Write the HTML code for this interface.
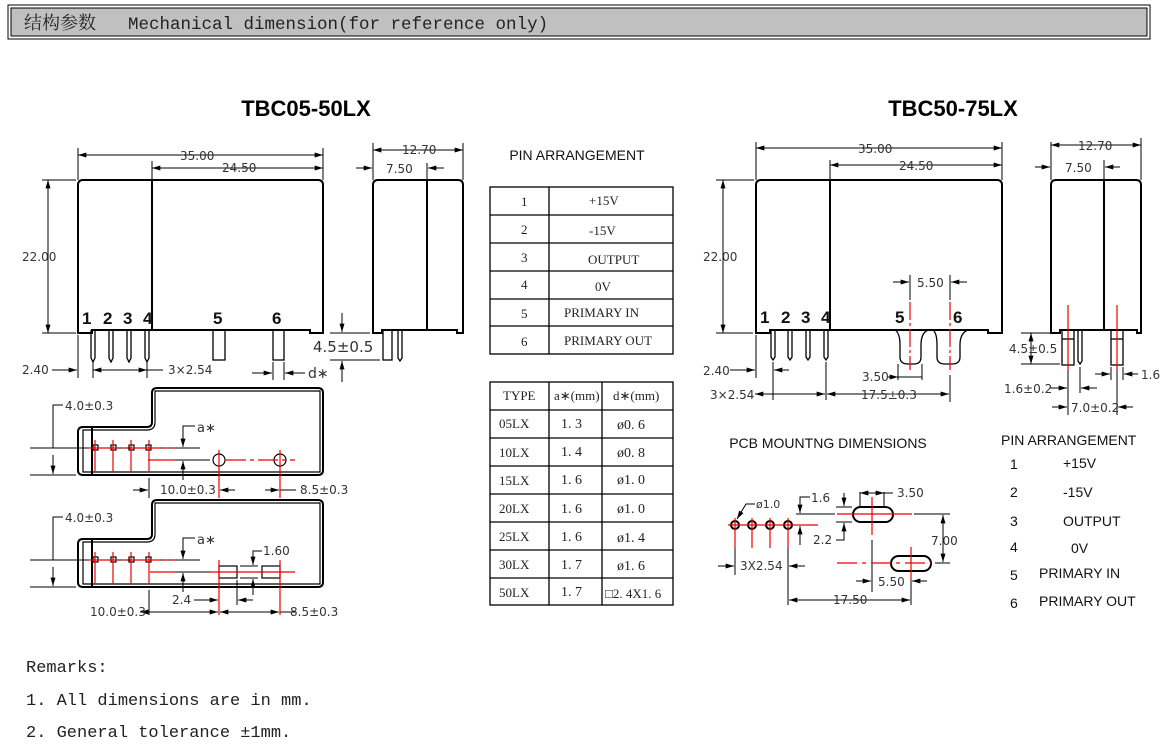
<!DOCTYPE html>
<html><head><meta charset="utf-8"><style>
html,body{margin:0;padding:0;background:#fff;}
svg{display:block;}
.d{font-family:"DejaVu Sans","Liberation Sans",sans-serif;font-size:12px;fill:#333;}
.m{font-family:"Liberation Serif","Noto Serif CJK SC",serif;font-size:13px;fill:#222;}
.b{font-family:"Liberation Sans",sans-serif;font-weight:bold;font-size:17px;fill:#111;}
.a{font-family:"Liberation Sans",sans-serif;font-size:14px;fill:#111;}
</style></head><body>
<svg width="1160" height="756" viewBox="0 0 1160 756" xmlns="http://www.w3.org/2000/svg">
<defs>
<marker id="ar" viewBox="0 0 10 6" refX="10" refY="3" markerWidth="9" markerHeight="5" orient="auto-start-reverse"><path d="M0,0L10,3L0,6z" fill="#000"/></marker>
</defs>
<!-- header -->
<rect x="8" y="5" width="1142" height="34" fill="#fff" stroke="#000" stroke-width="1"/>
<rect x="11" y="8" width="1136" height="28" fill="#c0c0c0" stroke="#000" stroke-width="1"/>
<text x="24" y="29" style="font-family:'Noto Serif CJK SC',serif;font-size:18px;fill:#222">结构参数</text>
<text x="128" y="29" style="font-family:'Liberation Mono',monospace;font-size:17.5px;fill:#222">Mechanical dimension(for reference only)</text>

<g fill="none" stroke="#000" stroke-width="1">
<!-- LEFT front -->
<path d="M78,333 V185 Q78,180 83,180 H318 Q323,180 323,185 V333 H310 V330 H92 V333 Z" stroke-width="2"/>
<line x1="152" y1="180" x2="152" y2="330" stroke-width="2"/>
<g stroke-width="1.3">
<path d="M91,330V358L93,362L95,358V330"/><path d="M109,330V358L111,362L113,358V330"/><path d="M127,330V358L129,362L131,358V330"/><path d="M145,330V358L147,362L149,358V330"/>
<rect x="213" y="330" width="12" height="30"/><rect x="273" y="330" width="11" height="30"/>
</g>
<line x1="78" y1="148" x2="78" y2="180"/><line x1="323" y1="148" x2="323" y2="180"/><line x1="152" y1="161" x2="152" y2="180"/>
<line x1="78" y1="155" x2="323" y2="155" marker-start="url(#ar)" marker-end="url(#ar)"/>
<line x1="152" y1="168" x2="323" y2="168" marker-start="url(#ar)" marker-end="url(#ar)"/>
<line x1="42" y1="180" x2="76" y2="180"/><line x1="42" y1="333" x2="76" y2="333"/>
<line x1="48" y1="180" x2="48" y2="333" marker-start="url(#ar)" marker-end="url(#ar)"/>
<line x1="78" y1="335" x2="78" y2="378"/><line x1="93" y1="362" x2="93" y2="378"/><line x1="147" y1="362" x2="147" y2="378"/>
<line x1="52" y1="370" x2="77" y2="370" marker-end="url(#ar)"/>
<line x1="93" y1="370" x2="147" y2="370" marker-start="url(#ar)" marker-end="url(#ar)"/><line x1="147" y1="370" x2="163" y2="370"/>
<line x1="252" y1="373" x2="272" y2="373" marker-end="url(#ar)"/><line x1="305" y1="373" x2="285" y2="373" marker-end="url(#ar)"/>
<line x1="273" y1="362" x2="273" y2="380"/><line x1="284" y1="362" x2="284" y2="380"/>
<line x1="330" y1="333" x2="370" y2="333"/><line x1="330" y1="360" x2="380" y2="360"/>
<line x1="342" y1="313" x2="342" y2="332" marker-end="url(#ar)"/><line x1="342" y1="382" x2="342" y2="361" marker-end="url(#ar)"/>
<!-- LEFT side -->
<path d="M373,333 V185 Q373,180 378,180 H458 Q463,180 463,185 V333 H457 V330 H382 V333 Z" stroke-width="2"/>
<line x1="427" y1="180" x2="427" y2="330" stroke-width="2"/>
<rect x="383" y="330" width="9" height="30" stroke-width="1.3"/><path d="M398,330V358L400,361L402,358V330" stroke-width="1.3"/>
<line x1="373" y1="143" x2="373" y2="180"/><line x1="463" y1="143" x2="463" y2="180"/><line x1="427" y1="163" x2="427" y2="180"/>
<line x1="373" y1="150" x2="463" y2="150" marker-start="url(#ar)" marker-end="url(#ar)"/>
<line x1="356" y1="168" x2="372" y2="168" marker-end="url(#ar)"/><line x1="444" y1="168" x2="428" y2="168" marker-end="url(#ar)"/>

<!-- LEFT bottom views -->
<path d="M83,427 H147 Q152,427 152,422 V393 Q152,388 157,388 H318 Q323,388 323,393 V470 Q323,475 318,475 H83 Q78,475 78,470 V432 Q78,427 83,427Z" stroke-width="2"/>
<path d="M83,430 H147 Q155,430 155,422 V391 H320 V472 H83 Z" stroke-width="1.2"/>
<line x1="92" y1="427" x2="92" y2="475" stroke-width="2"/>
<path d="M83,539 H147 Q152,539 152,534 V505 Q152,500 157,500 H318 Q323,500 323,505 V582 Q323,587 318,587 H83 Q78,587 78,582 V544 Q78,539 83,539Z" stroke-width="2"/>
<path d="M83,542 H147 Q155,542 155,534 V503 H320 V584 H83 Z" stroke-width="1.2"/>
<line x1="92" y1="539" x2="92" y2="587" stroke-width="2"/>
<g stroke-width="1.2">
<rect x="93" y="445" width="5" height="5"/><rect x="111" y="445" width="5" height="5"/><rect x="129" y="445" width="5" height="5"/><rect x="146" y="445" width="5" height="5"/>
<circle cx="219" cy="460" r="6"/><circle cx="280" cy="460" r="6"/>
<rect x="93" y="557" width="5" height="5"/><rect x="111" y="557" width="5" height="5"/><rect x="129" y="557" width="5" height="5"/><rect x="146" y="557" width="5" height="5"/>
<rect x="219" y="566" width="18" height="12"/><rect x="262" y="566" width="18" height="12"/>
</g>
<line x1="30" y1="448" x2="200" y2="448"/><line x1="30" y1="475" x2="76" y2="475"/>
<polyline points="63,405 53,405 53,448"/><line x1="53" y1="455" x2="53" y2="474" marker-end="url(#ar)"/>
<line x1="150" y1="460" x2="210" y2="460"/>
<polyline points="195,426 183,426 183,447" marker-end="url(#ar)"/><line x1="183" y1="480" x2="183" y2="461" marker-end="url(#ar)"/>
<line x1="149" y1="478" x2="149" y2="498"/><line x1="219" y1="466" x2="219" y2="498"/><line x1="280" y1="466" x2="280" y2="498"/>
<line x1="133" y1="490" x2="148" y2="490" marker-end="url(#ar)"/><line x1="220" y1="490" x2="235" y2="490" marker-start="url(#ar)"/><line x1="265" y1="490" x2="279" y2="490" marker-end="url(#ar)"/><line x1="280" y1="490" x2="296" y2="490"/>
<line x1="30" y1="560" x2="200" y2="560"/><line x1="30" y1="587" x2="76" y2="587"/>
<polyline points="63,517 53,517 53,560"/><line x1="53" y1="567" x2="53" y2="586" marker-end="url(#ar)"/>
<line x1="150" y1="572" x2="210" y2="572"/>
<polyline points="195,538 183,538 183,559" marker-end="url(#ar)"/><line x1="183" y1="592" x2="183" y2="573" marker-end="url(#ar)"/>
<line x1="240" y1="566" x2="258" y2="566"/><line x1="240" y1="578" x2="258" y2="578"/>
<polyline points="262,551 253,551 253,565" marker-end="url(#ar)"/><line x1="253" y1="595" x2="253" y2="579" marker-end="url(#ar)"/>
<line x1="149" y1="590" x2="149" y2="615"/><line x1="219" y1="580" x2="219" y2="615"/><line x1="237" y1="580" x2="237" y2="605"/><line x1="280" y1="580" x2="280" y2="615"/>
<line x1="194" y1="600" x2="218" y2="600" marker-end="url(#ar)"/><line x1="253" y1="600" x2="238" y2="600" marker-end="url(#ar)"/>
<line x1="140" y1="612" x2="218" y2="612" marker-start="url(#ar)" marker-end="url(#ar)"/><line x1="220" y1="612" x2="279" y2="612" marker-start="url(#ar)" marker-end="url(#ar)"/><line x1="280" y1="612" x2="296" y2="612"/>
</g>
<g stroke="#e00" stroke-width="1.2" fill="none">
<line x1="88" y1="448" x2="175" y2="448" stroke-dasharray="30,4,4,4"/><line x1="95" y1="440" x2="95" y2="472"/><line x1="113" y1="440" x2="113" y2="472"/><line x1="131" y1="440" x2="131" y2="472"/><line x1="149" y1="440" x2="149" y2="472"/>
<line x1="148" y1="460" x2="175" y2="460"/><line x1="226" y1="460" x2="295" y2="460" stroke-dasharray="20,4,4,4"/><line x1="219" y1="450" x2="219" y2="498"/><line x1="280" y1="450" x2="280" y2="498"/>
<line x1="88" y1="560" x2="175" y2="560" stroke-dasharray="30,4,4,4"/><line x1="95" y1="552" x2="95" y2="584"/><line x1="113" y1="552" x2="113" y2="584"/><line x1="131" y1="552" x2="131" y2="584"/><line x1="149" y1="552" x2="149" y2="584"/>
<line x1="150" y1="572" x2="175" y2="572"/><line x1="210" y1="572" x2="295" y2="572"/><line x1="219" y1="560" x2="219" y2="615"/><line x1="280" y1="560" x2="280" y2="615"/>
</g>
<g class="d">
<text x="180" y="160">35.00</text><text x="222" y="172">24.50</text><text x="22" y="261">22.00</text>
<text x="22" y="374">2.40</text><text x="168" y="374">3×2.54</text><text x="308" y="378" font-size="14">d∗</text>
<text x="313" y="352" font-size="15">4.5±0.5</text><text x="402" y="154">12.70</text><text x="386" y="173">7.50</text>
<text x="65" y="410">4.0±0.3</text><text x="197" y="432" font-size="13">a∗</text>
<text x="160" y="494">10.0±0.3</text><text x="300" y="494">8.5±0.3</text>
<text x="65" y="522">4.0±0.3</text><text x="197" y="544" font-size="13">a∗</text><text x="263" y="555">1.60</text>
<text x="172" y="604">2.4</text><text x="90" y="616">10.0±0.3</text><text x="290" y="616">8.5±0.3</text>
</g>
<g class="b"><text x="82" y="324">1</text><text x="103" y="324">2</text><text x="123" y="324">3</text><text x="143" y="324">4</text><text x="213" y="324">5</text><text x="272" y="324">6</text></g>
<text x="306" y="116" text-anchor="middle" style="font-family:'Liberation Sans',sans-serif;font-weight:bold;font-size:22px">TBC05-50LX</text>

<!-- TABLES -->
<text x="577" y="160" text-anchor="middle" class="a">PIN ARRANGEMENT</text>
<g fill="none" stroke="#000" stroke-width="1.3">
<rect x="490" y="187" width="183" height="167"/><line x1="549" y1="187" x2="549" y2="354"/>
<line x1="490" y1="215" x2="673" y2="215"/><line x1="490" y1="243" x2="673" y2="243"/><line x1="490" y1="271" x2="673" y2="271"/><line x1="490" y1="299" x2="673" y2="299"/><line x1="490" y1="326" x2="673" y2="326"/>
<rect x="490" y="382" width="183" height="223"/><line x1="549" y1="382" x2="549" y2="605"/><line x1="602" y1="382" x2="602" y2="605"/>
<line x1="490" y1="410" x2="673" y2="410"/><line x1="490" y1="438" x2="673" y2="438"/><line x1="490" y1="466" x2="673" y2="466"/><line x1="490" y1="494" x2="673" y2="494"/><line x1="490" y1="522" x2="673" y2="522"/><line x1="490" y1="550" x2="673" y2="550"/><line x1="490" y1="578" x2="673" y2="578"/>
</g>
<g class="m">
<text x="521" y="206">1</text><text x="521" y="234">2</text><text x="521" y="262">3</text><text x="521" y="289">4</text><text x="521" y="318">5</text><text x="521" y="346">6</text>
<text x="589" y="205">+15V</text><text x="589" y="235">-15V</text><text x="588" y="264">OUTPUT</text><text x="595" y="291">0V</text><text x="564" y="317">PRIMARY IN</text><text x="564" y="345">PRIMARY OUT</text>
<text x="503" y="400">TYPE</text><text x="554" y="400">a∗(mm)</text><text x="613" y="400">d∗(mm)</text>
<text x="499" y="428">05LX</text><text x="499" y="457">10LX</text><text x="499" y="485">15LX</text><text x="499" y="513">20LX</text><text x="499" y="541">25LX</text><text x="499" y="569">30LX</text><text x="499" y="597">50LX</text>
<text x="561" y="428" font-size="14">1. 3</text><text x="561" y="456" font-size="14">1. 4</text><text x="561" y="484" font-size="14">1. 6</text><text x="561" y="513" font-size="14">1. 6</text><text x="561" y="541" font-size="14">1. 6</text><text x="561" y="569" font-size="14">1. 7</text><text x="561" y="596" font-size="14">1. 7</text>
<text x="617" y="429" font-size="14">ø0. 6</text><text x="617" y="457" font-size="14">ø0. 8</text><text x="617" y="484" font-size="14">ø1. 0</text><text x="617" y="513" font-size="14">ø1. 0</text><text x="617" y="542" font-size="14">ø1. 4</text><text x="617" y="570" font-size="14">ø1. 6</text><text x="605" y="598">□2. 4X1. 6</text>
</g>

<!-- RIGHT front -->
<text x="953" y="116" text-anchor="middle" style="font-family:'Liberation Sans',sans-serif;font-weight:bold;font-size:22px">TBC50-75LX</text>
<g fill="none" stroke="#000" stroke-width="1">
<path d="M756,333 V185 Q756,180 761,180 H997 Q1002,180 1002,185 V333 H988 V330 H770 V333 Z" stroke-width="2"/>
<line x1="830" y1="180" x2="830" y2="330" stroke-width="2"/>
<g stroke-width="1.3">
<path d="M771,330V357L773,360L775,357V330"/><path d="M788,330V357L790,360L792,357V330"/><path d="M806,330V357L808,360L810,357V330"/><path d="M824,330V357L826,360L828,357V330"/>
<path d="M895,330 Q900,333 900,345 V357 Q900,364 908,364 H914 Q921,364 921,357 V345 Q921,333 928,330"/>
<path d="M933,330 Q937,333 937,345 V357 Q937,364 945,364 H952 Q960,364 960,357 V345 Q960,333 968,330"/>
</g>
<line x1="756" y1="142" x2="756" y2="180"/><line x1="1002" y1="142" x2="1002" y2="180"/><line x1="830" y1="160" x2="830" y2="180"/>
<line x1="756" y1="148" x2="1002" y2="148" marker-start="url(#ar)" marker-end="url(#ar)"/>
<line x1="830" y1="165" x2="1002" y2="165" marker-start="url(#ar)" marker-end="url(#ar)"/>
<line x1="716" y1="180" x2="754" y2="180"/><line x1="716" y1="333" x2="753" y2="333"/>
<line x1="723" y1="180" x2="723" y2="333" marker-start="url(#ar)" marker-end="url(#ar)"/>
<line x1="756" y1="335" x2="756" y2="378"/><line x1="773" y1="362" x2="773" y2="400"/><line x1="826" y1="362" x2="826" y2="400"/><line x1="950" y1="375" x2="950" y2="402"/>
<line x1="730" y1="370" x2="755" y2="370" marker-end="url(#ar)"/><line x1="789" y1="370" x2="774" y2="370" marker-end="url(#ar)"/>
<line x1="755" y1="394" x2="825" y2="394" marker-start="url(#ar)" marker-end="url(#ar)" /><line x1="827" y1="394" x2="949" y2="394" marker-start="url(#ar)" marker-end="url(#ar)"/>
<line x1="898" y1="364" x2="898" y2="380"/><line x1="922" y1="364" x2="922" y2="380"/>
<line x1="888" y1="377" x2="898" y2="377" marker-end="url(#ar)"/><line x1="922" y1="377" x2="898" y2="377"/>
<line x1="910" y1="275" x2="910" y2="300"/><line x1="950" y1="275" x2="950" y2="300"/>
<line x1="893" y1="282" x2="909" y2="282" marker-end="url(#ar)"/><line x1="967" y1="282" x2="951" y2="282" marker-end="url(#ar)"/>
<!-- RIGHT side -->
<path d="M1051,333 V185 Q1051,180 1056,180 H1136 Q1141,180 1141,185 V333 H1137 V330 H1060 V333 Z" stroke-width="2"/>
<line x1="1104" y1="180" x2="1104" y2="330" stroke-width="2"/>
<g stroke-width="1.3"><rect x="1062" y="330" width="12" height="35"/><line x1="1062" y1="339" x2="1074" y2="339"/><path d="M1078,330V361L1080,364L1082,361V330"/><rect x="1111" y="330" width="12" height="35"/><line x1="1111" y1="339" x2="1123" y2="339"/></g>
<line x1="1051" y1="142" x2="1051" y2="180"/><line x1="1141" y1="138" x2="1141" y2="180"/><line x1="1104" y1="160" x2="1104" y2="180"/>
<line x1="1051" y1="145" x2="1141" y2="145" marker-start="url(#ar)" marker-end="url(#ar)"/>
<line x1="1035" y1="167" x2="1050" y2="167" marker-end="url(#ar)"/><line x1="1120" y1="167" x2="1105" y2="167" marker-end="url(#ar)"/>
<line x1="1021" y1="333" x2="1050" y2="333"/><line x1="1021" y1="364" x2="1060" y2="364"/>
<line x1="1031" y1="333" x2="1031" y2="364" marker-start="url(#ar)" marker-end="url(#ar)"/>
<line x1="1068" y1="367" x2="1068" y2="415"/><line x1="1080" y1="367" x2="1080" y2="393"/><line x1="1117" y1="367" x2="1117" y2="415"/>
<line x1="1050" y1="388" x2="1067" y2="388" marker-end="url(#ar)"/><line x1="1097" y1="388" x2="1081" y2="388" marker-end="url(#ar)"/>
<line x1="1052" y1="407" x2="1067" y2="407" marker-end="url(#ar)"/><line x1="1133" y1="407" x2="1118" y2="407" marker-end="url(#ar)"/>
<line x1="1111" y1="367" x2="1111" y2="380"/><line x1="1123" y1="367" x2="1123" y2="380"/>
<line x1="1095" y1="374" x2="1110" y2="374" marker-end="url(#ar)"/><line x1="1138" y1="374" x2="1124" y2="374" marker-end="url(#ar)"/>
</g>
<g stroke="#e00" stroke-width="1.2"><line x1="910" y1="302" x2="910" y2="370" stroke-dasharray="18,3,3,3"/><line x1="950" y1="302" x2="950" y2="370" stroke-dasharray="18,3,3,3"/><line x1="1068" y1="305" x2="1068" y2="370"/><line x1="1117" y1="305" x2="1117" y2="370"/></g>
<g class="d">
<text x="858" y="153">35.00</text><text x="899" y="170">24.50</text><text x="703" y="261">22.00</text>
<text x="917" y="287">5.50</text><text x="703" y="375">2.40</text><text x="710" y="399">3×2.54</text><text x="862" y="381">3.50</text><text x="861" y="399">17.5±0.3</text>
<text x="1078" y="150">12.70</text><text x="1065" y="172">7.50</text><text x="1009" y="353">4.5±0.5</text><text x="1004" y="393">1.6±0.2</text><text x="1071" y="412">7.0±0.2</text><text x="1141" y="379">1.6</text>
</g>
<g class="b"><text x="760" y="323">1</text><text x="781" y="323">2</text><text x="801" y="323">3</text><text x="821" y="323">4</text><text x="895" y="323">5</text><text x="953" y="323">6</text></g>

<!-- PCB -->
<text x="828" y="448" text-anchor="middle" class="a">PCB MOUNTNG DIMENSIONS</text>
<g fill="none" stroke="#000" stroke-width="1">
<g stroke-width="2"><circle cx="735" cy="525" r="4"/><circle cx="752" cy="525" r="4"/><circle cx="770" cy="525" r="4"/><circle cx="788" cy="525" r="4"/>
<rect x="853" y="507" width="40" height="15" rx="7.5"/><rect x="891" y="556" width="40" height="15" rx="7.5"/></g>
<polyline points="755,504 746,504 737,519" marker-end="url(#ar)"/>
<line x1="796" y1="514" x2="835" y2="514"/><polyline points="810,497 800,497 800,513" marker-end="url(#ar)"/><line x1="800" y1="545" x2="800" y2="526" marker-end="url(#ar)"/>
<line x1="735" y1="548" x2="735" y2="575"/><line x1="788" y1="548" x2="788" y2="605"/>
<line x1="718" y1="566" x2="734" y2="566" marker-end="url(#ar)"/><line x1="805" y1="566" x2="789" y2="566" marker-end="url(#ar)"/>
<line x1="836" y1="507" x2="852" y2="507"/><line x1="836" y1="522" x2="852" y2="522"/>
<line x1="844" y1="493" x2="844" y2="506" marker-end="url(#ar)"/><polyline points="836,540 844,540 844,523"/><line x1="844" y1="530" x2="844" y2="523" marker-end="url(#ar)"/>
<line x1="860" y1="492" x2="860" y2="506"/><line x1="884" y1="492" x2="884" y2="506"/>
<line x1="860" y1="493" x2="884" y2="493" marker-start="url(#ar)" marker-end="url(#ar)"/><line x1="884" y1="493" x2="893" y2="493"/>
<line x1="914" y1="514" x2="950" y2="514"/><line x1="935" y1="563" x2="950" y2="563"/>
<line x1="943" y1="515" x2="943" y2="562" marker-start="url(#ar)" marker-end="url(#ar)"/>
<line x1="872" y1="540" x2="872" y2="592"/><line x1="911" y1="576" x2="911" y2="605"/>
<line x1="856" y1="581" x2="871" y2="581" marker-end="url(#ar)"/><line x1="927" y1="581" x2="912" y2="581" marker-end="url(#ar)"/>
<line x1="789" y1="600" x2="910" y2="600" marker-start="url(#ar)" marker-end="url(#ar)"/>
</g>
<g stroke="#e00" stroke-width="1.2">
<line x1="728" y1="525" x2="818" y2="525"/><line x1="735" y1="518" x2="735" y2="548"/><line x1="752" y1="518" x2="752" y2="548"/><line x1="770" y1="518" x2="770" y2="548"/><line x1="788" y1="518" x2="788" y2="548"/>
<line x1="837" y1="514" x2="912" y2="514"/><line x1="872" y1="497" x2="872" y2="535"/>
<line x1="837" y1="563" x2="931" y2="563" stroke-dasharray="20,5,4,5"/><line x1="911" y1="547" x2="911" y2="580"/>
</g>
<g class="d"><text x="756" y="508" font-size="11">ø1.0</text><text x="811" y="502">1.6</text><text x="897" y="497">3.50</text><text x="813" y="544">2.2</text><text x="931" y="545">7.00</text><text x="740" y="570">3X2.54</text><text x="878" y="586">5.50</text><text x="833" y="604">17.50</text></g>
<g class="a" font-size="14">
<text x="1001" y="445">PIN ARRANGEMENT</text>
<text x="1010" y="469">1</text><text x="1063" y="468">+15V</text>
<text x="1010" y="497">2</text><text x="1063" y="497">-15V</text>
<text x="1010" y="526">3</text><text x="1063" y="526">OUTPUT</text>
<text x="1010" y="552">4</text><text x="1071" y="553">0V</text>
<text x="1010" y="580">5</text><text x="1039" y="578">PRIMARY  IN</text>
<text x="1010" y="608">6</text><text x="1039" y="606">PRIMARY OUT</text>
</g>

<!-- remarks -->
<g style="font-family:'Liberation Mono',monospace;font-size:17px;fill:#222">
<text x="26" y="672">Remarks:</text>
<text x="26" y="705">1. All dimensions are in mm.</text>
<text x="26" y="737">2. General tolerance ±1mm.</text>
</g>
</svg>
</body></html>
